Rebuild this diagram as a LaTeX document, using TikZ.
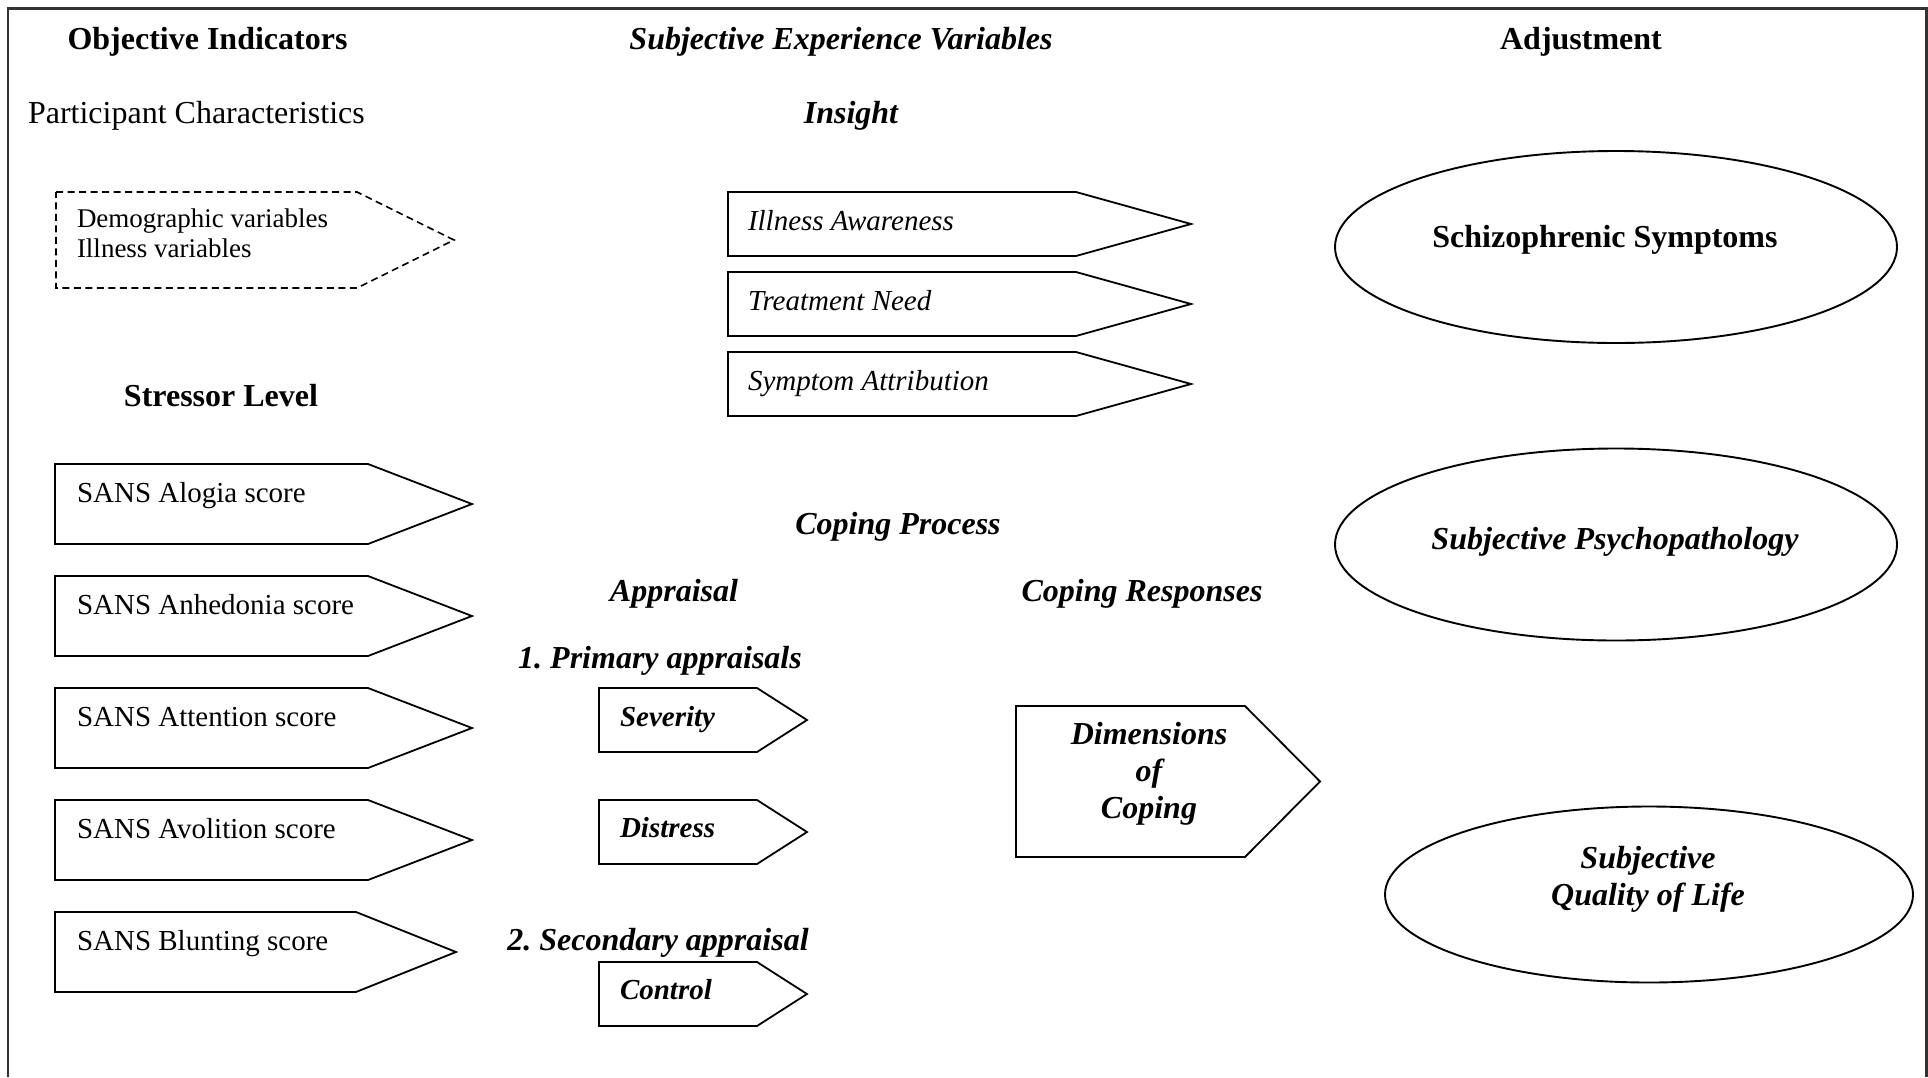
\documentclass[tikz,border=0pt]{standalone}
\usepackage{fontspec}
\setmainfont{Liberation Serif}
\usetikzlibrary{shapes.geometric}
\frenchspacing
\tikzset{
  txt/.style={inner sep=0pt, outer sep=0pt, anchor=base},
  big/.style={txt, font=\fontsize{32}{37}\selectfont},
  bigb/.style={big, font=\fontsize{32}{37}\selectfont\bfseries},
  bigbi/.style={big, font=\fontsize{32}{37}\selectfont\bfseries\itshape},
  boxtxt/.style={txt, anchor=base west, font=\fontsize{29}{33}\selectfont},
  boxit/.style={boxtxt, font=\fontsize{29}{33}\selectfont\itshape},
  boxbi/.style={boxtxt, font=\fontsize{29}{33}\selectfont\bfseries\itshape},
  boxline/.style={draw=black, line width=1.8pt, line join=miter},
  oval/.style={ellipse, draw=black, line width=1.9pt, inner sep=0pt},
  frameline/.style={draw=black!80, line width=2.4pt},
}
% #1 extra style, #2 name, #3 left, #4 top, #5 shoulder, #6 tip, #7 bottom
\newcommand\pentabox[7][]{%
  \draw[boxline,#1] (#3,#4) coordinate (#2-nw) -- (#5,#4) coordinate (#2-ne)
    -- (#6,{(#4+#7)/2}) coordinate (#2-tip) -- (#5,#7) coordinate (#2-se)
    -- (#3,#7) coordinate (#2-sw) -- cycle;}
\begin{document}
\begin{tikzpicture}[x=1pt, y=-1pt]
\useasboundingbox (0,0) rectangle (1928,1077);
% frame (bottom edge lies outside the picture)
\draw[frameline] (8,1077) -- (8,8.5) -- (1926.5,8.5) -- (1926.5,1077);

% column headings
\node[bigb]  (hobj) at (207.5,49) {Objective Indicators};
\node[bigbi] (hsub) at (841,49) {Subjective Experience Variables};
\node[bigb]  (hadj) at (1581,49) {Adjustment};

% participant characteristics
\node[big, anchor=base west] (pchar) at (28,123) {Participant Characteristics};
\pentabox[dashed, dash pattern=on 7pt off 4.5pt, line width=1.6pt]{demo}{56}{192}{357}{454}{288}
\node[txt, anchor=base west, align=left, font=\fontsize{27}{30}\selectfont] (demotxt) at (77,257)
  {Demographic variables\\Illness variables};

% insight
\node[bigbi] (insight) at (851,123) {Insight};
\pentabox{ia}{728}{192}{1076}{1191}{256}
\node[boxit] (iatxt) at (748,230) {Illness Awareness};
\pentabox{tn}{728}{272}{1076}{1191}{336}
\node[boxit] (tntxt) at (748,310) {Treatment Need};
\pentabox{sy}{728}{352}{1076}{1191}{416}
\node[boxit] (sytxt) at (748,390) {Symptom Attribution};

% stressor level
\node[bigb] (stress) at (221,406) {Stressor Level};
\pentabox{alo}{55}{464}{368}{472}{544}
\node[boxtxt] (alotxt) at (77,502) {SANS Alogia score};
\pentabox{anh}{55}{576}{368}{472}{656}
\node[boxtxt] (anhtxt) at (77,614) {SANS Anhedonia score};
\pentabox{att}{55}{688}{368}{472}{768}
\node[boxtxt] (atttxt) at (77,726) {SANS Attention score};
\pentabox{avo}{55}{800}{368}{472}{880}
\node[boxtxt] (avotxt) at (77,838) {SANS Avolition score};
\pentabox{blu}{55}{912}{356}{456}{992}
\node[boxtxt] (blutxt) at (77,950) {SANS Blunting score};

% coping process
\node[bigbi] (cproc) at (898,534) {Coping Process};
\node[bigbi] (apprh) at (674,601) {Appraisal};
\node[bigbi] (cresp) at (1142,601) {Coping Responses};
\node[bigbi] (prim) at (660,668) {1. Primary appraisals};
\pentabox{sev}{599}{688}{757}{807}{752}
\node[boxbi] (sevtxt) at (620,726) {Severity};
\pentabox{dis}{599}{800}{757}{807}{864}
\node[boxbi] (distxt) at (620,837) {Distress};
\node[bigbi] (sec) at (658,950) {2. Secondary appraisal};
\pentabox{con}{599}{962}{757}{807}{1026}
\node[boxbi] (contxt) at (620,999) {Control};
\pentabox{dim}{1016}{706}{1245}{1320}{857}
\node[bigbi, align=center] (dimtxt) at (1149,818) {Dimensions\\of\\Coping};

% adjustment
\node[oval, minimum width=562pt, minimum height=192pt] (schiz) at (1616,247) {};
\node[bigb] (schiztxt) at (1605,247) {Schizophrenic Symptoms};
\node[oval, minimum width=562pt, minimum height=192pt] (psy) at (1616,544.5) {};
\node[bigbi] (psytxt) at (1615,549) {Subjective Psychopathology};
\node[oval, minimum width=528pt, minimum height=176pt] (qol) at (1649,894.5) {};
\node[bigbi, align=center] (qoltxt) at (1648,905) {Subjective\\Quality of Life};
\end{tikzpicture}
\end{document}
